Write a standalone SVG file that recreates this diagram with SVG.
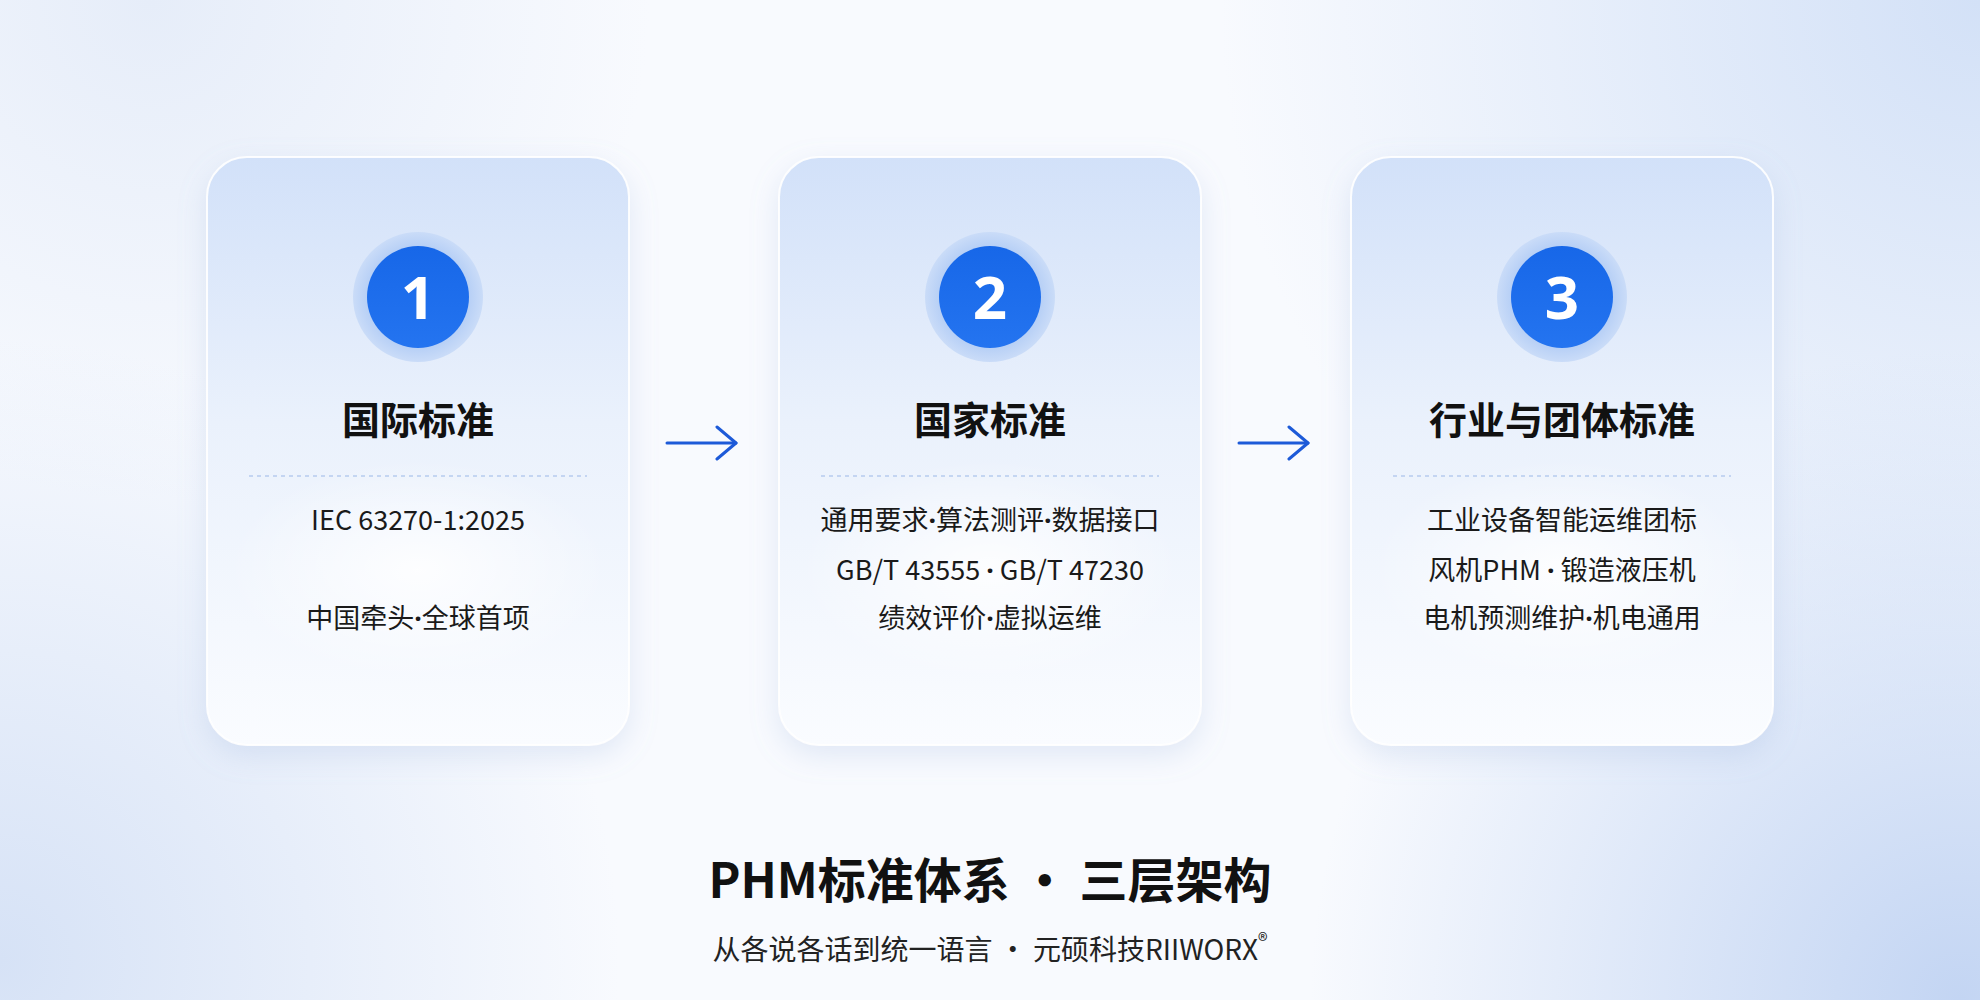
<svg xmlns="http://www.w3.org/2000/svg" width="1980" height="1000" viewBox="0 0 1980 1000">
<defs>
<style>
.card{fill:url(#cardGrad);stroke:#ffffff;stroke-opacity:0.9;stroke-width:2;filter:url(#shadow)}
.halo{fill:url(#haloGrad)}
.disc{fill:url(#discGrad)}
.num{font-family:"Noto Sans","Noto Sans CJK SC",sans-serif;font-weight:700;font-size:60px;fill:#ffffff;text-anchor:middle}
.title{font-family:"Noto Sans CJK SC","Noto Sans",sans-serif;font-weight:700;font-size:38px;fill:#111111;text-anchor:middle}
.body{font-family:"Noto Sans CJK SC","Noto Sans",sans-serif;font-weight:400;font-size:27px;fill:#1a1a1a;text-anchor:middle}
.dot{font-family:"Noto Sans","DejaVu Sans",sans-serif;font-weight:700}
.dash{stroke:#b7cbee;stroke-width:1.5;stroke-dasharray:4 4}
.glow{fill:url(#glowGrad)}
.arrow{stroke:#1d5ad8;stroke-width:3;fill:none;stroke-linecap:round;marker-end:url(#chev)}
.main{font-family:"Noto Sans CJK SC","Noto Sans",sans-serif;font-weight:700;font-size:48px;fill:#111111;text-anchor:middle}
.sub{font-family:"Noto Sans CJK SC","Noto Sans",sans-serif;font-weight:400;font-size:28px;fill:#222222;text-anchor:middle}
</style>
<radialGradient id="bgTR" cx="1980" cy="0" r="760" gradientUnits="userSpaceOnUse">
<stop offset="0" stop-color="#d3e1f7"/><stop offset="1" stop-color="#d3e1f7" stop-opacity="0"/>
</radialGradient>
<radialGradient id="bgBR" cx="1960" cy="1000" r="650" gradientUnits="userSpaceOnUse">
<stop offset="0" stop-color="#c3d5f3"/><stop offset="1" stop-color="#c3d5f3" stop-opacity="0"/>
</radialGradient>
<radialGradient id="bgBL" cx="0" cy="960" r="620" gradientUnits="userSpaceOnUse">
<stop offset="0" stop-color="#d6e2f6"/><stop offset="1" stop-color="#d6e2f6" stop-opacity="0"/>
</radialGradient>
<radialGradient id="bgTL" cx="150" cy="0" r="500" gradientUnits="userSpaceOnUse">
<stop offset="0" stop-color="#e6edf9"/><stop offset="1" stop-color="#e6edf9" stop-opacity="0"/>
</radialGradient>
<linearGradient id="cardGrad" x1="0" y1="0" x2="0" y2="1">
<stop offset="0" stop-color="#d2e1f9"/>
<stop offset="0.45" stop-color="#eaf1fc"/>
<stop offset="1" stop-color="#fafcff"/>
</linearGradient>
<radialGradient id="haloGrad" cx="0.5" cy="0.5" r="0.5">
<stop offset="0.7" stop-color="#b0cbf5"/>
<stop offset="1" stop-color="#cadcf8"/>
</radialGradient>
<linearGradient id="discGrad" x1="0" y1="0" x2="0" y2="1">
<stop offset="0" stop-color="#1767e8"/>
<stop offset="1" stop-color="#2474f0"/>
</linearGradient>
<radialGradient id="glowGrad" cx="0.5" cy="0.5" r="0.5">
<stop offset="0" stop-color="#ffffff" stop-opacity="0.85"/>
<stop offset="1" stop-color="#ffffff" stop-opacity="0"/>
</radialGradient>
<filter id="shadow" x="-20%" y="-20%" width="140%" height="140%">
<feDropShadow dx="0" dy="10" stdDeviation="14" flood-color="#8fa9d6" flood-opacity="0.22"/>
</filter>
<marker id="chev" viewBox="0 0 24 36" refX="22" refY="18" markerWidth="24" markerHeight="36" markerUnits="userSpaceOnUse" orient="auto">
<path d="M3,2 L22,18 L3,34" fill="none" stroke="#1d5ad8" stroke-width="3" stroke-linecap="round" stroke-linejoin="round"/>
</marker>
</defs>

<g id="background">
<rect width="1980" height="1000" fill="#f8fafe"/>
<rect width="1980" height="1000" fill="url(#bgTL)"/>
<rect width="1980" height="1000" fill="url(#bgTR)"/>
<rect width="1980" height="1000" fill="url(#bgBR)"/>
<rect width="1980" height="1000" fill="url(#bgBL)"/>
</g>

<g id="node-1">
<rect class="card" x="207" y="157" width="422" height="588" rx="40"/>
<ellipse class="glow" cx="418" cy="570" rx="190" ry="110"/>
<circle class="halo" cx="418" cy="297" r="65"/>
<circle class="disc" cx="418" cy="297" r="51"/>
<text class="num" x="418" y="319">1</text>
<text class="title" x="418" y="434">国际标准</text>
<line class="dash" x1="249" y1="476" x2="587" y2="476"/>
<text class="body" x="418" y="530">IEC 63270-1:2025</text>
<text class="body" x="418" y="628">中国牵头<tspan class="dot">·</tspan>全球首项</text>
</g>

<g id="node-2">
<rect class="card" x="779" y="157" width="422" height="588" rx="40"/>
<ellipse class="glow" cx="990" cy="570" rx="190" ry="110"/>
<circle class="halo" cx="990" cy="297" r="65"/>
<circle class="disc" cx="990" cy="297" r="51"/>
<text class="num" x="990" y="319">2</text>
<text class="title" x="990" y="434">国家标准</text>
<line class="dash" x1="821" y1="476" x2="1159" y2="476"/>
<text class="body" x="990" y="530">通用要求<tspan class="dot">·</tspan>算法测评<tspan class="dot">·</tspan>数据接口</text>
<text class="body" x="990" y="580">GB/T 43555 <tspan class="dot">·</tspan> GB/T 47230</text>
<text class="body" x="990" y="628">绩效评价<tspan class="dot">·</tspan>虚拟运维</text>
</g>

<g id="node-3">
<rect class="card" x="1351" y="157" width="422" height="588" rx="40"/>
<ellipse class="glow" cx="1562" cy="570" rx="190" ry="110"/>
<circle class="halo" cx="1562" cy="297" r="65"/>
<circle class="disc" cx="1562" cy="297" r="51"/>
<text class="num" x="1562" y="319">3</text>
<text class="title" x="1562" y="434">行业与团体标准</text>
<line class="dash" x1="1393" y1="476" x2="1731" y2="476"/>
<text class="body" x="1562" y="530">工业设备智能运维团标</text>
<text class="body" x="1562" y="580">风机PHM <tspan class="dot">·</tspan> 锻造液压机</text>
<text class="body" x="1562" y="628">电机预测维护<tspan class="dot">·</tspan>机电通用</text>
</g>

<g id="connectors">
<line class="arrow" x1="667" y1="443" x2="736" y2="443"/>
<line class="arrow" x1="1239" y1="443" x2="1308" y2="443"/>
</g>

<g id="caption">
<text class="main" x="990" y="898">PHM标准体系 · 三层架构</text>
<text class="sub" x="990" y="960">从各说各话到统一语言 · 元硕科技RIIWORX<tspan font-size="20" dy="-12">®</tspan></text>
</g>
</svg>
